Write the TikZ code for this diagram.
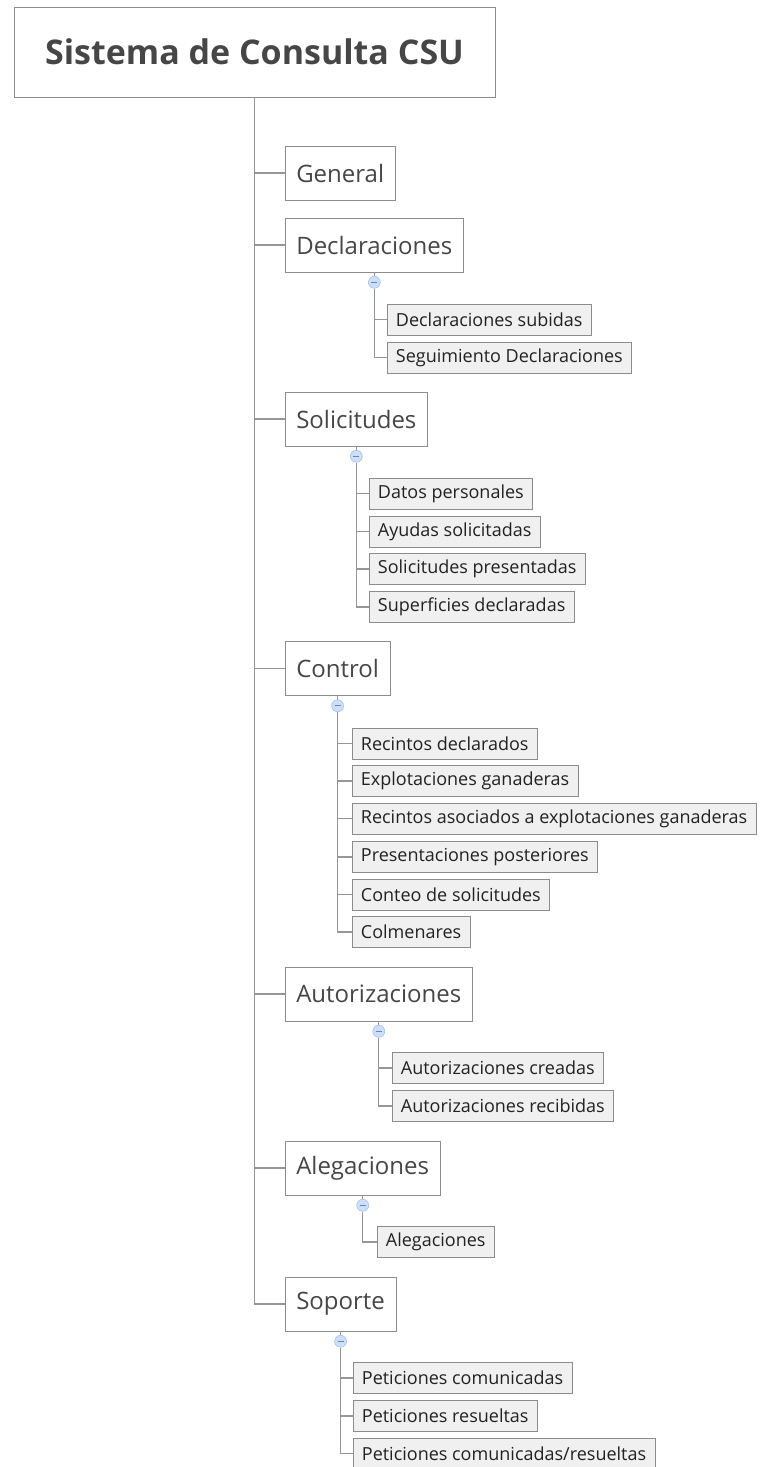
\documentclass[tikz,border=0pt]{standalone}
\usepackage{fontspec}
\setmainfont{Open Sans}
\usepackage{tikz}
\usetikzlibrary{calc,positioning}
\definecolor{linegray}{RGB}{140,140,140}
\definecolor{stemgray}{RGB}{150,150,150}
\definecolor{textgray}{RGB}{70,70,70}
\definecolor{textdark}{RGB}{34,34,34}
\definecolor{subfill}{RGB}{240,240,240}
\definecolor{togglerim}{RGB}{160,190,235}
\definecolor{togglefill}{RGB}{205,222,248}
\tikzset{
    rootbox/.style={draw=linegray, minimum width=360.75pt, minimum height=67.5pt,
        font=\fontsize{25.5}{30}\selectfont\bfseries, text=textgray},
    topic/.style={draw=linegray, anchor=west, minimum height=40.5pt, inner xsep=8.25pt,
        font=\fontsize{18}{22}\selectfont, text=textgray},
    subtopic/.style={draw=linegray, fill=subfill, anchor=west, minimum height=23.5pt,
        inner xsep=6.5pt, font=\fontsize{13.5}{16}\selectfont, text=textdark},
    toggle/.style={circle, draw=togglerim, fill=togglefill, minimum size=9pt, inner sep=0pt,
        path picture={\draw[togglerim!70!black, line width=0.6pt]
            ([xshift=-2.2pt]path picture bounding box.center) -- ([xshift=2.2pt]path picture bounding box.center);}},
    link/.style={draw=stemgray, line width=1pt},
}

\begin{document}
\begin{tikzpicture}[x=0.75pt,y=0.75pt,yscale=-1,xscale=1]
\useasboundingbox (0,0) rectangle (760,1467);
%Root
\node[rootbox] (root) at (254.5,52) {Sistema de Consulta CSU};
%Topics
\node[topic] (gen) at (285,173) {General};
\node[topic] (decl) at (285,245) {Declaraciones};
\node[topic] (sol) at (285,419) {Solicitudes};
\node[topic] (ctrl) at (285,668.5) {Control};
\node[topic] (aut) at (285,994) {Autorizaciones};
\node[topic] (aleg) at (285,1168) {Alegaciones};
\node[topic] (sop) at (285,1304) {Soporte};
%Declaraciones
\node[subtopic] (decl1) at (387,319.5) {Declaraciones subidas};
\node[subtopic] (decl2) at (387,357.5) {Seguimiento Declaraciones};
%Solicitudes
\node[subtopic] (sol1) at (369,493.5) {Datos personales};
\node[subtopic] (sol2) at (369,531.5) {Ayudas solicitadas};
\node[subtopic] (sol3) at (369,569) {Solicitudes presentadas};
\node[subtopic] (sol4) at (369,607) {Superficies declaradas};
%Control
\node[subtopic] (ctrl1) at (352,743.5) {Recintos declarados};
\node[subtopic] (ctrl2) at (352,781) {Explotaciones ganaderas};
\node[subtopic] (ctrl3) at (352,818.5) {Recintos asociados a explotaciones ganaderas};
\node[subtopic] (ctrl4) at (352,857) {Presentaciones posteriores};
\node[subtopic] (ctrl5) at (352,894.5) {Conteo de solicitudes};
\node[subtopic] (ctrl6) at (352,932) {Colmenares};
%Autorizaciones
\node[subtopic] (aut1) at (392,1068) {Autorizaciones creadas};
\node[subtopic] (aut2) at (392,1106) {Autorizaciones recibidas};
%Alegaciones
\node[subtopic] (aleg1) at (377,1242) {Alegaciones};
%Soporte
\node[subtopic] (sop1) at (353,1378) {Peticiones comunicadas};
\node[subtopic] (sop2) at (353,1416) {Peticiones resueltas};
\node[subtopic] (sop3) at (353,1453.5) {Peticiones comunicadas/resueltas};
%Toggles
\node[toggle, below=7.5pt of decl.south, anchor=center] (tdecl) {};
\node[toggle, below=7.5pt of sol.south, anchor=center] (tsol) {};
\node[toggle, below=7.5pt of ctrl.south, anchor=center] (tctrl) {};
\node[toggle, below=7.5pt of aut.south, anchor=center] (taut) {};
\node[toggle, below=7.5pt of aleg.south, anchor=center] (taleg) {};
\node[toggle, below=7.5pt of sop.south, anchor=center] (tsop) {};
%Main stem
\draw[link] (root.south) |- (sop.west);
\foreach \t in {gen,decl,sol,ctrl,aut,aleg}
    \draw[link] (root.south |- \t.west) -- (\t.west);
%Branches
\foreach \p/\last/\others in {decl/decl2/{decl1},
        sol/sol4/{sol1,sol2,sol3},
        ctrl/ctrl6/{ctrl1,ctrl2,ctrl3,ctrl4,ctrl5},
        aut/aut2/{aut1},
        aleg/aleg1/{},
        sop/sop3/{sop1,sop2}}{
    \draw[link] (\p.south) -- (t\p.north);
    \draw[link] (t\p.south) |- (\last.west);
    \foreach \c in \others
        \draw[link] (t\p.south |- \c.west) -- (\c.west);
}
\end{tikzpicture}
\end{document}
